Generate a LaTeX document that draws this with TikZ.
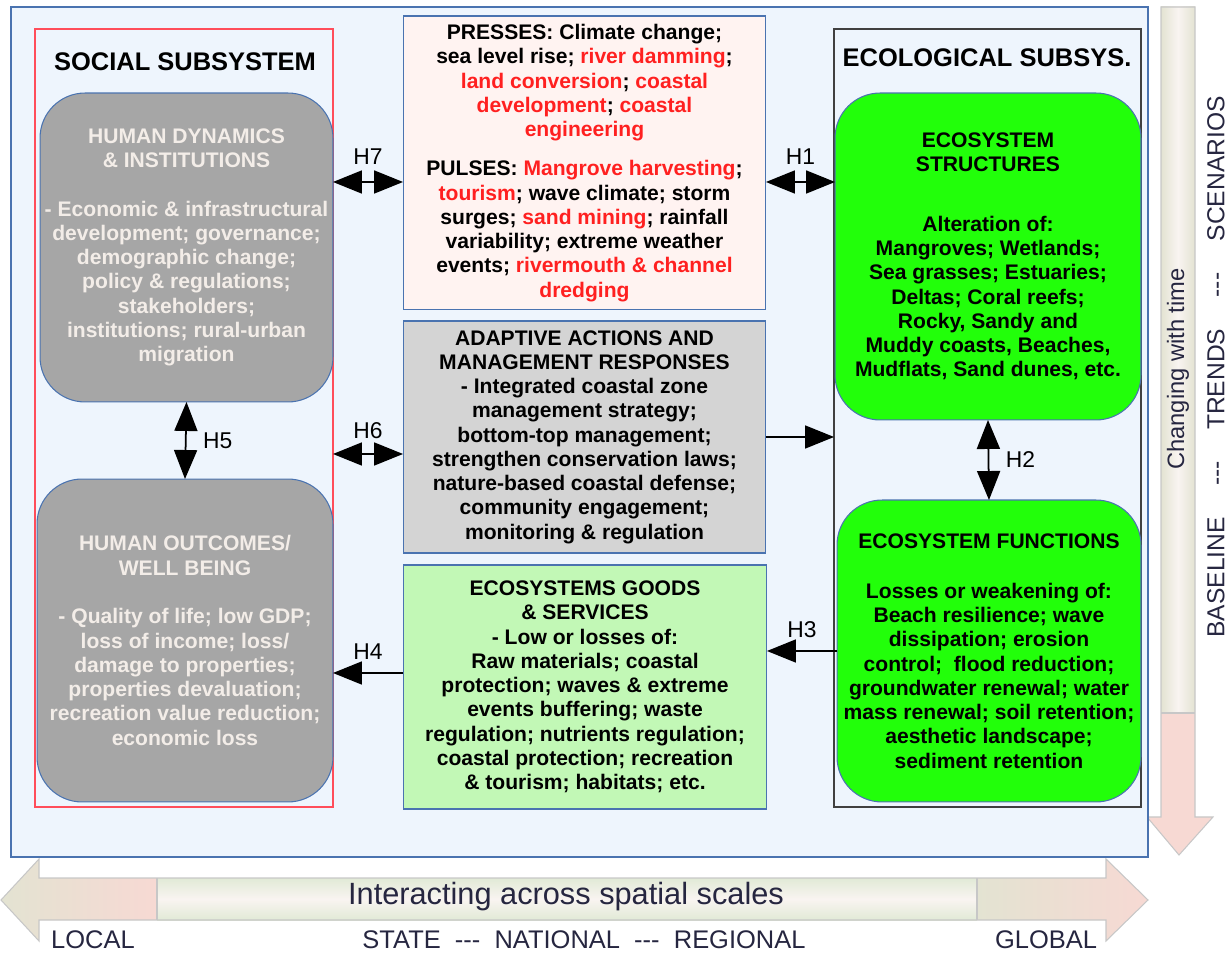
\documentclass[tikz,border=0pt]{standalone}
\usepackage{fontspec}
\setmainfont{Liberation Sans}
\usetikzlibrary{arrows.meta}
\definecolor{frameblue}{HTML}{4A73B0}
\definecolor{paleblue}{HTML}{EEF5FD}
\definecolor{pressfill}{HTML}{FFF3F1}
\definecolor{actgray}{HTML}{D4D4D4}
\definecolor{goodsgreen}{HTML}{C2F8B6}
\definecolor{ecogreen}{HTML}{22FF0A}
\definecolor{humgray}{HTML}{A6A6A6}
\definecolor{humtext}{HTML}{F3EDE8}
\definecolor{hotred}{HTML}{FF2020}
\definecolor{socred}{HTML}{FF4D5A}
\definecolor{scaleink}{HTML}{262640}
\definecolor{scalebeige}{HTML}{E3E3D2}
\definecolor{scalepink}{HTML}{F7D9D3}
\definecolor{scalegreen}{HTML}{E1EAD6}
\definecolor{scalewhite}{HTML}{F9F4F1}
\newcommand{\hot}[1]{\textcolor{hotred}{#1}}
\newcommand{\tridash}{-{}-{}-}

\begin{document}
\begin{tikzpicture}[x=0.02cm,y=-0.02cm,
  box/.style={draw=frameblue,line width=0.6pt,outer sep=0pt,inner sep=2pt,align=center,
    font=\bfseries\fontsize{12}{13.8}\selectfont},
  humanbox/.style={box,fill=humgray,text=humtext,rounded corners=0.9cm},
  ecobox/.style={box,fill=ecogreen,rounded corners=0.9cm},
  subsys/.style={draw,line width=0.8pt,outer sep=0pt,minimum height=15.56cm},
  title/.style={font=\bfseries\fontsize{14.5}{16}\selectfont},
  hlabel/.style={font=\fontsize{13}{15}\selectfont},
  link/.style={line width=1pt,-{Triangle[length=0.58cm,width=0.46cm]}},
  bilink/.style={line width=1pt,{Triangle[length=0.58cm,width=0.46cm]}-{Triangle[length=0.58cm,width=0.46cm]}},
  scalebar/.style={draw=black!22,line width=0.6pt},
  scaletext/.style={text=scaleink,font=\fontsize{14.5}{16}\selectfont}
]
\useasboundingbox (0,0) rectangle (1231,955);

% time arrow on the right
\shade[left color=scalebeige,right color=scalebeige,middle color=scalewhite] (1161,7) rectangle (1195,713);
\fill[scalepink] (1161,713) -- (1195,713) -- (1195,817) -- (1213,817) -- (1179,855) -- (1147,817) -- (1161,817) -- cycle;
\draw[scalebar] (1161,7) -- (1195,7) -- (1195,817) -- (1213,817) -- (1179,855) -- (1147,817) -- (1161,817) -- cycle;
\draw[scalebar] (1161,713) -- (1195,713);
\node[rotate=90,text=scaleink,font=\fontsize{13.5}{15}\selectfont] (time) at (1178,369) {Changing with time};
\node[rotate=90,scaletext,font=\fontsize{14}{16}\selectfont] (stage) at (1216,367) {BASELINE\quad\ \tridash\quad\ TRENDS\quad\ \tridash\quad\ SCENARIOS};

% space arrow at the bottom
\shade[left color=scalebeige,right color=scalepink] (157,878) -- (39,878) -- (39,859) -- (1,900) -- (39,941) -- (39,920) -- (157,920) -- cycle;
\shade[top color=scalegreen,bottom color=scalegreen,middle color=scalewhite] (157,878) rectangle (977,920);
\shade[left color=scalebeige,right color=scalepink] (977,878) -- (1106,878) -- (1106,859) -- (1148,900) -- (1106,941) -- (1106,920) -- (977,920) -- cycle;
\draw[scalebar] (39,878) -- (39,859) -- (1,900) -- (39,941) -- (39,920) -- (1106,920) -- (1106,941) -- (1148,900) -- (1106,859) -- (1106,878) -- cycle;
\draw[scalebar] (157,878) -- (157,920) (977,878) -- (977,920);
\node[text=scaleink,font=\fontsize{17.5}{19}\selectfont] (space) at (566,897) {Interacting across spatial scales};
\node[scaletext] (local) at (93,940) {LOCAL};
\node[scaletext] (middle) at (584,940) {STATE\ \ \tridash\ \ NATIONAL\ \ \tridash\ \ REGIONAL};
\node[scaletext] (global) at (1046,940) {GLOBAL};

% main frame
\draw[draw=frameblue,fill=paleblue,line width=1.4pt] (11,7) rectangle (1148,857);

\node[subsys,draw=socred,minimum width=5.96cm] (social) at (184,418) {};
\node[subsys,draw=black!75,minimum width=6.14cm] (ecosys) at (987.5,418) {};
\node[title] (soctitle) at (185,62) {SOCIAL SUBSYSTEM};
\node[title] (ecotitle) at (987,58) {ECOLOGICAL SUBSYS.};

\node[humanbox,minimum width=5.86cm,minimum height=6.18cm] (dyn) at (186.5,247.5)
  {HUMAN DYNAMICS\\\& INSTITUTIONS\\[13.8pt]- Economic \& infrastructural\\development; governance;\\demographic change;\\policy \& regulations;\\stakeholders;\\institutions; rural-urban\\migration};
\node[humanbox,minimum width=5.92cm,minimum height=6.46cm] (outc) at (185,640.5)
  {HUMAN OUTCOMES/\\WELL BEING\\[14pt]- Quality of life; low GDP;\\loss of income; loss/\\damage to properties;\\properties devaluation;\\recreation value reduction;\\economic loss};

\node[box,fill=pressfill,minimum width=7.26cm,minimum height=5.88cm] (press) at (584.5,163)
  {PRESSES: Climate change;\\sea level rise; \hot{river damming};\\\hot{land conversion}; \hot{coastal}\\\hot{development}; \hot{coastal}\\\hot{engineering}\\[8.5pt]PULSES: \hot{Mangrove harvesting};\\\hot{tourism}; wave climate; storm\\surges; \hot{sand mining}; rainfall\\variability; extreme weather\\events; \hot{rivermouth \& channel}\\\hot{dredging}};
\node[box,fill=actgray,minimum width=7.26cm,minimum height=4.64cm] (adapt) at (584.5,437)
  {ADAPTIVE ACTIONS AND\\MANAGEMENT RESPONSES\\- Integrated coastal zone\\management strategy;\\bottom-top management;\\strengthen conservation laws;\\nature-based coastal defense;\\community engagement;\\monitoring \& regulation};
\node[box,fill=goodsgreen,minimum width=7.28cm,minimum height=4.88cm] (goods) at (585,687)
  {ECOSYSTEMS GOODS\\\& SERVICES\\- Low or losses of:\\Raw materials; coastal\\protection; waves \& extreme\\events buffering; waste\\regulation; nutrients regulation;\\coastal protection; recreation\\\& tourism; habitats; etc.};

\node[ecobox,minimum width=6.12cm,minimum height=6.54cm] (struct) at (988,256.5)
  {ECOSYSTEM\\STRUCTURES\\[20pt]Alteration of:\\Mangroves; Wetlands;\\Sea grasses; Estuaries;\\Deltas; Coral reefs;\\Rocky, Sandy and\\Muddy coasts, Beaches,\\Mudflats, Sand dunes, etc.};
\node[ecobox,minimum width=6.08cm,minimum height=6.04cm] (func) at (989,651)
  {ECOSYSTEM FUNCTIONS\\[14.7pt]Losses or weakening of:\\Beach resilience; wave\\dissipation; erosion\\control;\ \ flood reduction;\\groundwater renewal; water\\mass renewal; soil retention;\\aesthetic landscape;\\sediment retention};

% links
\coordinate (h7) at (368,182);
\coordinate (h6) at (368,454);
\coordinate (h4) at (370,673);
\draw[bilink] (dyn.east |- h7) -- (press.west |- h7) node[midway,above=6pt,hlabel] {H7};
\draw[bilink] (press.east |- h7) -- (struct.west |- h7) node[midway,above=6pt,hlabel] {H1};
\draw[bilink] (social.east |- h6) -- (adapt.west |- h6) node[midway,above=5pt,hlabel] {H6};
\draw[bilink] (dyn.south) -- (outc.north) node[midway,right=6pt,hlabel] {H5};
\draw[bilink] (struct.south) -- (func.north) node[midway,right=6pt,hlabel] {H2};
\draw[link] (adapt.east) -- (adapt.east -| ecosys.west);
\draw[link] (func.west) -- (goods.east |- func.west) node[midway,above=4pt,hlabel] {H3};
\draw[link] (goods.west |- h4) -- (outc.east |- h4) node[midway,above=4pt,hlabel] {H4};
\end{tikzpicture}
\end{document}
